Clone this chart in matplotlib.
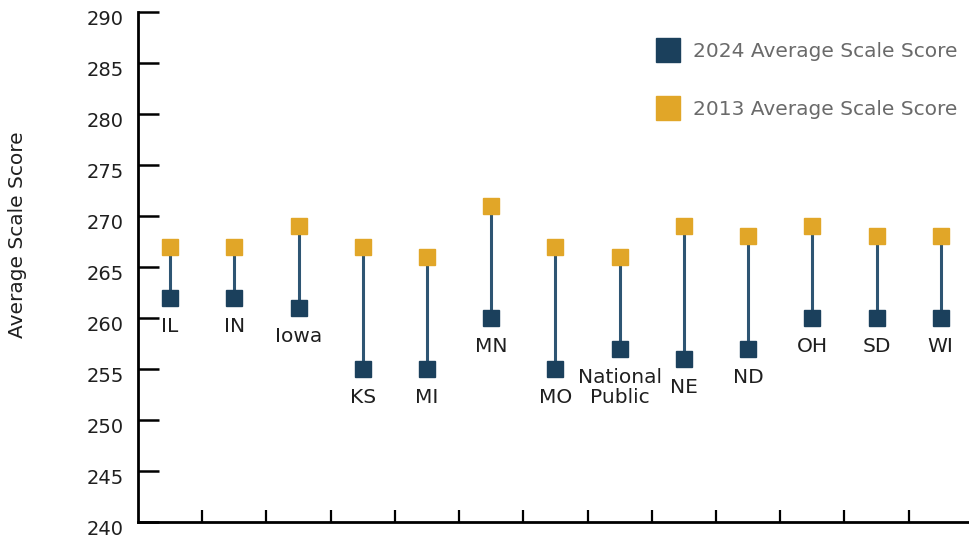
import matplotlib
matplotlib.use("Agg")
import matplotlib.pyplot as plt
from matplotlib.lines import Line2D
import matplotlib.transforms as mtransforms
import numpy as np

# ── Data ──
states = ["IL", "IN", "Iowa", "KS", "MI", "MN", "MO", "National\nPublic",
          "NE", "ND", "OH", "SD", "WI"]
score_2013 = [267, 267, 269, 267, 266, 271, 267, 266, 269, 268, 269, 268, 268]
score_2024 = [262, 262, 261, 255, 255, 260, 255, 257, 256, 257, 260, 260, 260]
y_ticks = [240, 245, 250, 255, 260, 265, 270, 275, 280, 285, 290]

# ── Palette ──
NAVY = "#1B405C"
STEM = "#2E5573"
GOLD = "#E1A628"
TEXT_DARK = "#1F1F1F"
TEXT_GREY = "#6A6A6A"

plt.rcParams["font.family"] = ["DejaVu Sans"]

W, H = 969, 544
fig = plt.figure(figsize=(W / 100, H / 100), dpi=100)
ax = fig.add_axes([138 / W, 22 / H, (W - 138) / W, 510 / H])

x = np.arange(len(states))

# stems
ax.vlines(x, score_2024, score_2013, color=STEM, linewidth=2.2, zorder=1)
ax.plot(x, score_2013, "s", color=GOLD, markersize=11.5, linestyle="none", zorder=3)
ax.plot(x, score_2024, "s", color=NAVY, markersize=11.5, linestyle="none", zorder=3)

# labels under 2024 markers
for xi, yi, name in zip(x, score_2024, states):
    ax.annotate(name, (xi, yi), xytext=(0, -14), textcoords="offset points",
                ha="center", va="top", fontsize=14.5, color=TEXT_DARK,
                linespacing=1.05)

# axes
ax.set_xlim(-0.5, 12.44)
ax.set_ylim(240, 290)
ax.set_xticks(x[:-1] + 0.5)
ax.set_xticklabels([])
ax.set_yticks(y_ticks)
ax.tick_params(axis="x", direction="in", length=9, width=1.6, color="black")
ax.tick_params(axis="y", direction="in", length=15, width=1.8, color="black",
               labelsize=14, labelcolor=TEXT_DARK, pad=10)
offset = mtransforms.ScaledTranslation(0, -4 / 72, fig.dpi_scale_trans)
for lbl in ax.get_yticklabels():
    lbl.set_transform(lbl.get_transform() + offset)

for s in ["top", "right"]:
    ax.spines[s].set_visible(False)
ax.spines["left"].set_linewidth(2)
ax.spines["bottom"].set_linewidth(2)

fig.text(18 / W, 1 - 235 / H, "Average Scale Score", rotation=90,
         ha="center", va="center", fontsize=14.5, color=TEXT_DARK)

# legend
handles = [
    Line2D([], [], marker="s", color=NAVY, linestyle="none", markersize=17),
    Line2D([], [], marker="s", color=GOLD, linestyle="none", markersize=17),
]
leg = ax.legend(handles, ["2024 Average Scale Score", "2013 Average Scale Score"],
                loc="upper left", bbox_to_anchor=(512 / (W - 138), 1 - 22 / 510),
                frameon=False, fontsize=14.5, labelspacing=1.95,
                handletextpad=0.72, handlelength=1.0, borderaxespad=0)
for t in leg.get_texts():
    t.set_color(TEXT_GREY)

fig.savefig("out.png", dpi=100)
